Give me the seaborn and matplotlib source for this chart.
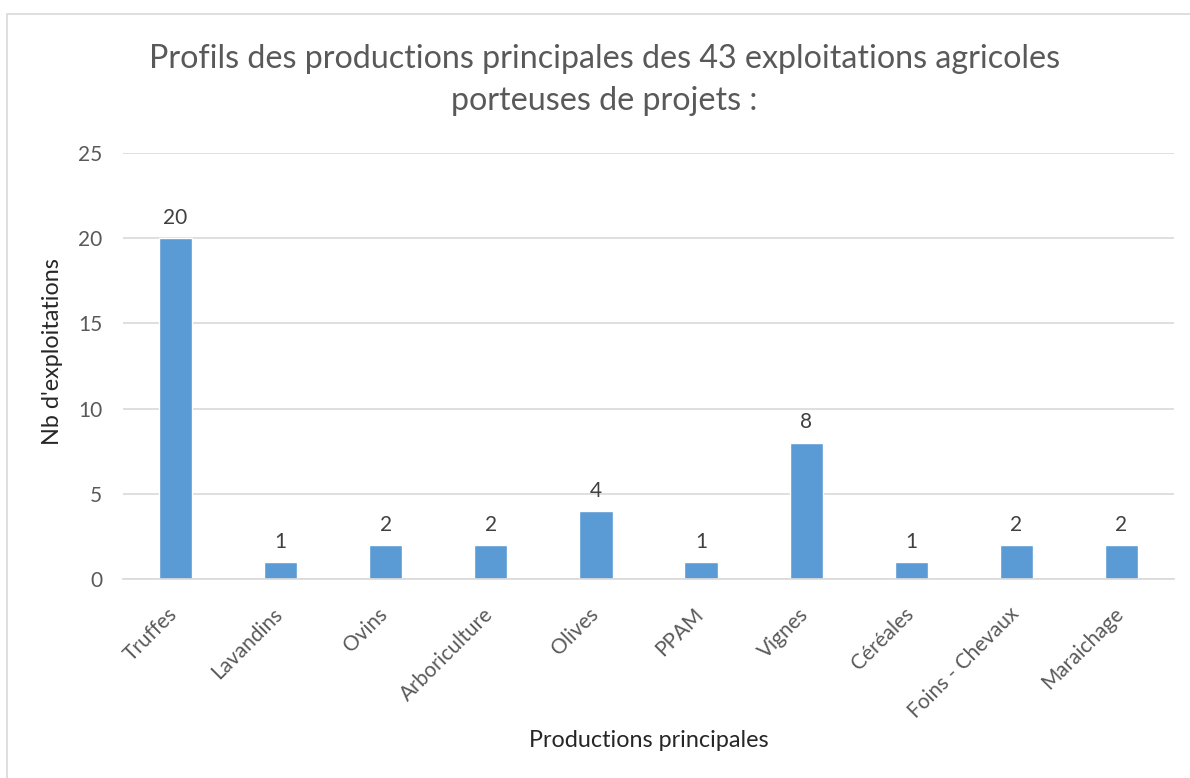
import pandas as pd
import matplotlib.pyplot as plt
import matplotlib.transforms as mtransforms
import seaborn as sns
from matplotlib.patches import Rectangle

categories = ['Truffes', 'Lavandins', 'Ovins', 'Arboriculture', 'Olives',
              'PPAM', 'Vignes', 'Céréales', 'Foins - Chevaux', 'Maraichage']
counts = [20, 1, 2, 2, 4, 1, 8, 1, 2, 2]
yticks = [0, 5, 10, 15, 20, 25]

df = pd.DataFrame({'production': categories, 'nb': counts})

sns.set_theme(style='white')
plt.rcParams['font.family'] = ['Lato', 'DejaVu Sans']

fig = plt.figure(figsize=(11.9, 7.78), dpi=100)
ax = fig.add_axes([123 / 1190, 1 - 579 / 778, 1051 / 1190, 426 / 778])

sns.barplot(data=df, x='production', y='nb', color='#5B9BD5', saturation=1,
            width=0.315, ax=ax)

ax.set_ylim(0, 25)
ax.set_xlim(-0.5, len(categories) - 0.5)
ax.set_yticks(yticks)
ax.yaxis.grid(True, color='#D9D9D9', linewidth=1.2)
ax.set_axisbelow(True)
for s in ['top', 'right', 'left']:
    ax.spines[s].set_visible(False)
ax.spines['bottom'].set_color('#D9D9D9')
ax.spines['bottom'].set_linewidth(1.2)

ax.tick_params(axis='y', labelsize=15, labelcolor='#595959', length=0, pad=15)
ax.tick_params(axis='x', labelsize=15, labelcolor='#595959', length=0, pad=18)
plt.setp(ax.get_xticklabels(), rotation=45, ha='right', rotation_mode='anchor')
# nudge rotated labels left so their end sits under the bar centre
shift = mtransforms.ScaledTranslation(-8 / 100, 0, fig.dpi_scale_trans)
for lbl in ax.get_xticklabels():
    lbl.set_transform(lbl.get_transform() + shift)

for i, v in enumerate(counts):
    ax.text(i, v + 0.6, str(v), ha='center', va='bottom', fontsize=15, color='#404040')

ax.set_ylabel("Nb d'exploitations", fontsize=16.8, color='#262626')
ax.set_xlabel('Productions principales', fontsize=16.8, color='#262626')
ax.yaxis.set_label_coords(-0.057, 0.535)
ax.xaxis.set_label_coords(0.5, -0.355)

fig.text(0.508, 1 - 80 / 778,
         "Profils des productions principales des 43 exploitations agricoles\nporteuses de projets :",
         ha='center', va='center', fontsize=23.2, color='#595959', linespacing=1.5)

fig.patches.append(Rectangle((7 / 1190, -0.1), 1.2, 1.1 - 14 / 778,
                             transform=fig.transFigure, fill=False,
                             edgecolor='#D9D9D9', linewidth=1.2))

fig.savefig('out.png', dpi=100)
